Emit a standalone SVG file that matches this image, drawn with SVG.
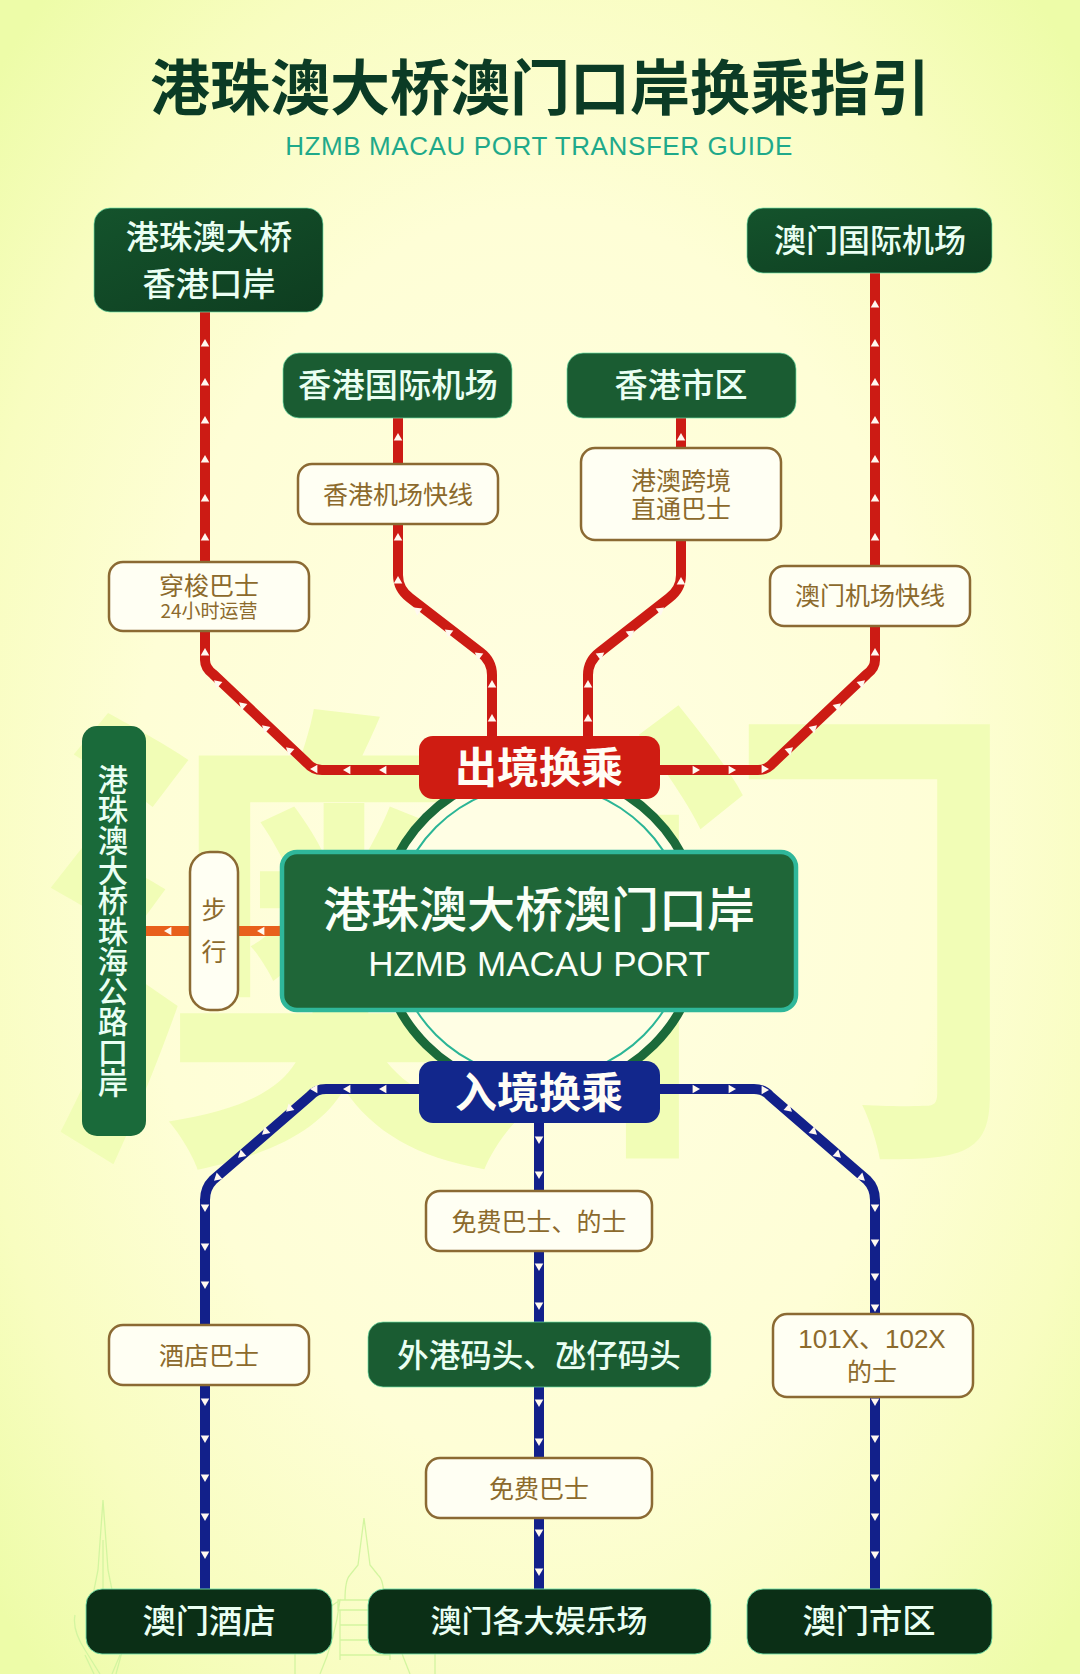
<svg xmlns="http://www.w3.org/2000/svg" width="1080" height="1674" viewBox="0 0 1080 1674">
<defs>
<radialGradient id="bg" cx="50%" cy="50%" r="68%">
<stop offset="0" stop-color="#fffee2"/><stop offset="0.55" stop-color="#fefed6"/><stop offset="0.8" stop-color="#f8fdc0"/><stop offset="1" stop-color="#edfca8"/>
</radialGradient>
<linearGradient id="gTop" x1="0" y1="0" x2="1" y2="1"><stop offset="0" stop-color="#14532c"/><stop offset="1" stop-color="#0e3d20"/></linearGradient>
<polygon id="a" points="-3.4,-4.3 4,0 -3.4,4.3" fill="#fff8f0"/>
<style>
text{font-family:"Noto Sans CJK SC","Noto Sans",sans-serif;text-anchor:middle;dominant-baseline:central}
.line{fill:none;stroke-width:10;stroke-linejoin:round}
.r{stroke:#cc1b14}.b{stroke:#12208a}.o{stroke:#e8601c}
.n{fill:#eafff3;font-size:33.3px;font-weight:500}
.lab rect{fill:#fffff3;stroke:#8b6a33;stroke-width:2.5}
.lab text{fill:#8c6a2c;font-size:25px}
.t1{fill:#1a5c32;stroke:#6fe0a8;stroke-width:.7}.t2{fill:url(#gTop);stroke:#6fe0a8;stroke-width:.7}.t3{fill:#0b2f16;stroke:#6fe0a8;stroke-width:.9}
.wm{fill:#f1fdb6;font-size:490px;font-weight:700}
.tw{fill:none;stroke:#d3f5a0;stroke-width:1.3}
</style>
</defs>
<rect width="1080" height="1674" fill="url(#bg)"/>
<g id="watermark">
<text class="wm" x="282" y="912">澳</text>
<text class="wm" transform="translate(807 907) scale(.88 .98)" x="0" y="0">门</text>
<path class="tw" d="M103 1500L98 1570L92 1600M103 1500L108 1570L114 1600M103 1540V1600M75 1615Q72 1630 85 1650L100 1674M132 1615L116 1674M85 1655L94 1674M120 1655L112 1674"/>
<path class="tw" d="M364 1518L358 1565L350 1575Q345 1580 345 1600M364 1518L370 1565L378 1575Q384 1580 384 1600M338 1600H392V1610H338ZM340 1610V1660M390 1610V1660M340 1625H390M340 1640H390M340 1655H390M305 1590Q312 1620 332 1600M425 1590Q418 1620 398 1600M295 1650Q310 1620 340 1600Q335 1640 320 1674M435 1650Q420 1620 390 1600Q395 1640 410 1674M295 1650V1674M435 1650V1674"/>
</g>
<g id="ring">
<circle cx="540" cy="931" r="161" fill="#fffee4" stroke="#1b6a3a" stroke-width="9"/>
<circle cx="540" cy="931" r="147" fill="none" stroke="#2bb596" stroke-width="2"/>
</g>
<g id="connectors">
<path class="line r" d="M205 312V660Q205 668 213 674L307 763Q313 770 322 770H419"/>
<path class="line r" d="M875 273V660Q875 668 867 674L773 763Q767 770 758 770H660"/>
<path class="line r" d="M398 418V575Q398 589 410 598L480 652Q492 661 492 675V736"/>
<path class="line r" d="M681 418V575Q681 589 669 598L600 652Q588 661 588 675V736"/>
<path class="line b" d="M205 1589V1200Q205 1188 213 1180L310 1096Q316 1089 326 1089H419"/>
<path class="line b" d="M875 1589V1200Q875 1188 867 1180L770 1096Q764 1089 754 1089H660"/>
<path class="line b" d="M539 1123V1589"/>
<path class="line o" d="M146 931H282"/>
<g id="arrows">
<use href="#a" transform="translate(205 343) rotate(-90)"/><use href="#a" transform="translate(205 382) rotate(-90)"/><use href="#a" transform="translate(205 420) rotate(-90)"/><use href="#a" transform="translate(205 459) rotate(-90)"/><use href="#a" transform="translate(205 498) rotate(-90)"/><use href="#a" transform="translate(205 537) rotate(-90)"/><use href="#a" transform="translate(205 652) rotate(-90)"/>
<use href="#a" transform="translate(217 683) rotate(222)"/><use href="#a" transform="translate(242 705) rotate(222)"/><use href="#a" transform="translate(265 728) rotate(222)"/><use href="#a" transform="translate(289 750) rotate(222)"/><use href="#a" transform="translate(314 769) rotate(180)"/><use href="#a" transform="translate(347 770) rotate(180)"/><use href="#a" transform="translate(383 770) rotate(180)"/>
<use href="#a" transform="translate(875 304) rotate(-90)"/><use href="#a" transform="translate(875 343) rotate(-90)"/><use href="#a" transform="translate(875 382) rotate(-90)"/><use href="#a" transform="translate(875 420) rotate(-90)"/><use href="#a" transform="translate(875 459) rotate(-90)"/><use href="#a" transform="translate(875 498) rotate(-90)"/><use href="#a" transform="translate(875 537) rotate(-90)"/><use href="#a" transform="translate(875 652) rotate(-90)"/>
<use href="#a" transform="translate(862 683) rotate(-42)"/><use href="#a" transform="translate(838 706) rotate(-42)"/><use href="#a" transform="translate(814 728) rotate(-42)"/><use href="#a" transform="translate(790 750) rotate(-42)"/><use href="#a" transform="translate(765 769)"/><use href="#a" transform="translate(732 770)"/><use href="#a" transform="translate(696 770)"/>
<use href="#a" transform="translate(398 437) rotate(-90)"/><use href="#a" transform="translate(398 537) rotate(-90)"/><use href="#a" transform="translate(398 580) rotate(-90)"/><use href="#a" transform="translate(417 610) rotate(217)"/><use href="#a" transform="translate(448 632) rotate(217)"/><use href="#a" transform="translate(478 655) rotate(217)"/><use href="#a" transform="translate(492 684) rotate(-90)"/><use href="#a" transform="translate(492 718) rotate(-90)"/>
<use href="#a" transform="translate(681 437) rotate(-90)"/><use href="#a" transform="translate(681 581) rotate(-90)"/><use href="#a" transform="translate(661 610) rotate(-37)"/><use href="#a" transform="translate(631 633) rotate(-37)"/><use href="#a" transform="translate(601 655) rotate(-37)"/><use href="#a" transform="translate(588 684) rotate(-90)"/><use href="#a" transform="translate(588 718) rotate(-90)"/>
<use href="#a" transform="translate(168 931) rotate(180)"/><use href="#a" transform="translate(261 931) rotate(180)"/>
<use href="#a" transform="translate(383 1089) rotate(180)"/><use href="#a" transform="translate(347 1089) rotate(180)"/><use href="#a" transform="translate(314 1089) rotate(180)"/><use href="#a" transform="translate(289 1109) rotate(138)"/><use href="#a" transform="translate(265 1132) rotate(138)"/><use href="#a" transform="translate(241 1155) rotate(138)"/><use href="#a" transform="translate(217 1178) rotate(138)"/>
<use href="#a" transform="translate(205 1208) rotate(90)"/><use href="#a" transform="translate(205 1247) rotate(90)"/><use href="#a" transform="translate(205 1285) rotate(90)"/><use href="#a" transform="translate(205 1402) rotate(90)"/><use href="#a" transform="translate(205 1439) rotate(90)"/><use href="#a" transform="translate(205 1478) rotate(90)"/><use href="#a" transform="translate(205 1517) rotate(90)"/><use href="#a" transform="translate(205 1555) rotate(90)"/>
<use href="#a" transform="translate(696 1089)"/><use href="#a" transform="translate(732 1089)"/><use href="#a" transform="translate(765 1090)"/><use href="#a" transform="translate(789 1109) rotate(42)"/><use href="#a" transform="translate(814 1132) rotate(42)"/><use href="#a" transform="translate(838 1155) rotate(42)"/><use href="#a" transform="translate(862 1178) rotate(42)"/>
<use href="#a" transform="translate(875 1208) rotate(90)"/><use href="#a" transform="translate(875 1243) rotate(90)"/><use href="#a" transform="translate(875 1277) rotate(90)"/><use href="#a" transform="translate(875 1308) rotate(90)"/><use href="#a" transform="translate(875 1402) rotate(90)"/><use href="#a" transform="translate(875 1439) rotate(90)"/><use href="#a" transform="translate(875 1478) rotate(90)"/><use href="#a" transform="translate(875 1517) rotate(90)"/><use href="#a" transform="translate(875 1555) rotate(90)"/>
<use href="#a" transform="translate(539 1140) rotate(90)"/><use href="#a" transform="translate(539 1175) rotate(90)"/><use href="#a" transform="translate(539 1267) rotate(90)"/><use href="#a" transform="translate(539 1306) rotate(90)"/><use href="#a" transform="translate(539 1403) rotate(90)"/><use href="#a" transform="translate(539 1442) rotate(90)"/><use href="#a" transform="translate(539 1533) rotate(90)"/><use href="#a" transform="translate(539 1572) rotate(90)"/>
</g>
</g>
<g id="title">
<text x="540" y="83" font-size="60" font-weight="700" fill="#0b3b25">港珠澳大桥澳门口岸换乘指引</text>
<text x="539" y="146" font-size="26" letter-spacing="0.6" fill="#1fa98a" style="font-family:'Liberation Sans',sans-serif">HZMB MACAU PORT TRANSFER GUIDE</text>
</g>
<g id="node-hk-port"><rect class="t2" x="94" y="208" width="229" height="104" rx="16"/><text class="n" x="209" y="234">港珠澳大桥</text><text class="n" x="209" y="281">香港口岸</text></g>
<g id="node-hk-airport"><rect class="t1" x="283" y="353" width="229" height="65" rx="16"/><text class="n" x="398" y="382">香港国际机场</text></g>
<g id="node-hk-city"><rect class="t1" x="567" y="353" width="229" height="65" rx="16"/><text class="n" x="681" y="382">香港市区</text></g>
<g id="node-mo-airport"><rect class="t2" x="747" y="208" width="245" height="65" rx="16"/><text class="n" x="870" y="238" style="font-size:32px">澳门国际机场</text></g>
<g id="label-shuttle" class="lab"><rect x="109" y="562" width="200" height="69" rx="14"/><text x="209" y="584">穿梭巴士</text><text x="209" y="609" style="font-size:19px">24小时运营</text></g>
<g id="label-hk-express" class="lab"><rect x="298" y="464" width="200" height="60" rx="14"/><text x="398" y="493">香港机场快线</text></g>
<g id="label-crossborder" class="lab"><rect x="581" y="448" width="200" height="92" rx="14"/><text x="681" y="479">港澳跨境</text><text x="681" y="507">直通巴士</text></g>
<g id="label-mo-express" class="lab"><rect x="770" y="566" width="200" height="60" rx="14"/><text x="870" y="594">澳门机场快线</text></g>
<g id="hub-out"><rect x="419" y="736" width="241" height="63" rx="14" fill="#cf1c12"/><text x="539" y="764" font-size="42" font-weight="700" fill="#fffdf5">出境换乘</text></g>
<g id="hub-in"><rect x="419" y="1061" width="241" height="62" rx="14" fill="#12278c"/><text x="539" y="1089" font-size="42" font-weight="700" fill="#fffdf5">入境换乘</text></g>
<g id="node-main"><rect x="282" y="852" width="514" height="158" rx="15" fill="#1f6638" stroke="#2fb79a" stroke-width="4.5"/><text x="539" y="906" font-size="48" font-weight="500" fill="#fafff8">港珠澳大桥澳门口岸</text><text x="539" y="963" font-size="35" fill="#fafff8" style="font-family:'Liberation Sans',sans-serif">HZMB MACAU PORT</text></g>
<g id="node-zh-port"><rect x="82" y="726" width="64" height="410" rx="15" fill="#1a6a3a"/><text class="n" x="113" y="931" writing-mode="vertical-rl" style="font-size:30.3px">港珠澳大桥珠海公路口岸</text></g>
<g id="label-walk" class="lab"><rect x="190" y="852" width="48" height="158" rx="20"/><text x="214" y="908">步</text><text x="214" y="950">行</text></g>
<g id="label-free-taxi" class="lab"><rect x="426" y="1191" width="226" height="60" rx="14"/><text x="539" y="1220">免费巴士、的士</text></g>
<g id="node-ferry"><rect class="t1" x="368" y="1322" width="343" height="65" rx="15"/><text class="n" x="539" y="1353" style="font-size:31.5px">外港码头、氹仔码头</text></g>
<g id="label-free" class="lab"><rect x="426" y="1458" width="226" height="60" rx="14"/><text x="539" y="1487">免费巴士</text></g>
<g id="label-hotel" class="lab"><rect x="109" y="1325" width="200" height="60" rx="14"/><text x="209" y="1354">酒店巴士</text></g>
<g id="label-101x" class="lab"><rect x="773" y="1314" width="200" height="83" rx="14"/><text x="872" y="1339" style="font-family:'Liberation Sans','Noto Sans CJK SC',sans-serif;font-size:26px">101X、102X</text><text x="872" y="1370">的士</text></g>
<g id="node-mo-hotel"><rect class="t3" x="86" y="1589" width="246" height="65" rx="16"/><text class="n" x="209" y="1618">澳门酒店</text></g>
<g id="node-mo-casino"><rect class="t3" x="368" y="1589" width="343" height="65" rx="16"/><text class="n" x="539" y="1618" style="font-size:31px">澳门各大娱乐场</text></g>
<g id="node-mo-city"><rect class="t3" x="747" y="1589" width="245" height="65" rx="16"/><text class="n" x="869" y="1618">澳门市区</text></g>
</svg>
